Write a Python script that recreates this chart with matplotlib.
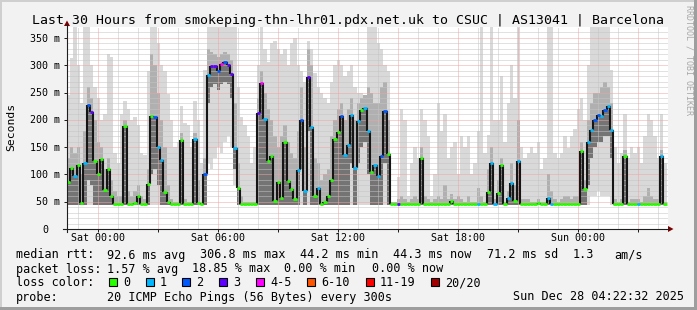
import numpy as np
import matplotlib.pyplot as plt
from matplotlib.patches import Rectangle, Polygon
from matplotlib.lines import Line2D
from matplotlib.transforms import offset_copy

# =============================
# DATA (10 minute steps, time in hours from Sat 00:00)
# =============================
t_start = -1.58
step_h = 1 / 6

rtt_med = [
    86, 112, 97, 118, 47, 121, 228, 214, 125, 100, 129, 71, 110, 60, 45, 45, 45, 189, 45, 45,
    48, 60, 45, 45, 83, 207, 206, 151, 127, 67,
    50, 45, 45, 45, 163, 45, 45, 45, 165, 48, 45, 101, 282, 298, 299, 290, 302, 306, 301, 283,
    148, 75, 45, 45, 45, 45, 45, 213, 268, 202,
    125, 133, 52, 87, 57, 159, 88, 73, 55, 108, 200, 70, 279, 186, 60, 76, 46, 50, 60, 90,
    165, 178, 207, 135, 154, 209, 112, 198, 218, 221,
    180, 105, 118, 97, 133, 217, 137, 45, 45, 45, 45, 45, 45, 45, 45, 45, 130, 45, 45, 45,
    45, 45, 45, 45, 45, 51, 45, 45, 45, 45,
    45, 45, 45, 45, 45, 45, 67, 121, 45, 66, 118, 45, 57, 84, 51, 125, 45, 45, 45, 45,
    45, 48, 45, 45, 56, 45, 45, 45, 45, 45,
    45, 45, 45, 45, 143, 73, 160, 182, 200, 208, 207, 218, 225, 181, 45, 45, 45, 133, 45, 45,
    45, 45, 45, 45, 45, 45, 45, 45, 133, 45,
]

loss = [
    0, 0, 1, 0, 0, 1, 2, 3, 0, 0, 0, 0, 0, 0, 0, 0, 0, 0, 0, 0, 0, 0, 0, 0, 0, 0, 2, 1, 1, 0,
    0, 0, 0, 0, 0, 0, 0, 0, 1, 0, 0, 2, 1, 3, 3, 2, 4, 2, 3, 3, 1, 0, 0, 0, 0, 0, 0, 3, 4, 1,
    0, 0, 0, 0, 0, 0, 0, 0, 0, 1, 2, 1, 3, 1, 0, 1, 0, 0, 0, 0, 0, 0, 2, 1, 1, 1, 1, 1, 0, 1,
    1, 0, 1, 1, 2, 2, 0, 0, 0, 3, 0, 0, 0, 0, 0, 0, 0, 0, 0, 0, 0, 0, 0, 0, 0, 0, 0, 0, 0, 0,
    0, 0, 0, 1, 0, 0, 0, 1, 1, 0, 0, 0, 1, 1, 0, 1, 0, 0, 0, 0, 0, 0, 0, 0, 1, 1, 0, 0, 0, 0,
    0, 0, 0, 0, 0, 0, 1, 1, 2, 2, 1, 2, 1, 1, 0, 0, 0, 0, 0, 0, 0, 1, 0, 0, 0, 0, 0, 0, 1, 0,
]

rtt_min = (
    [44] * 42 + [120, 110, 130, 150, 140, 160, 170, 150, 80] + [44] * 106
    + [60, 60, 70, 60, 60, 60] + [44] * 17
)

rtt_q1 = [
    44, 44, 44, 44, 44, 44, 90, 80, 44, 44, 44, 44, 44, 44, 44, 44, 44, 44, 44, 44,
    44, 44, 44, 44, 44, 100, 110, 80, 44, 44,
    44, 44, 44, 44, 44, 44, 44, 44, 44, 44, 44, 44, 230, 260, 265, 255, 265, 270, 265, 240,
    110, 44, 44, 44, 44, 44, 44, 44, 44, 44,
    44, 44, 44, 44, 44, 44, 44, 44, 44, 44, 110, 44, 180, 44, 44, 44, 44, 44, 44, 44,
    44, 44, 44, 44, 44, 120, 44, 120, 150, 160,
    100, 44, 44, 44, 44, 120, 44, 44, 44, 44, 44, 44, 44, 44, 44, 44, 44, 44, 44, 44,
    44, 44, 44, 44, 44, 44, 44, 44, 44, 44,
    44, 44, 44, 44, 44, 44, 44, 44, 44, 44, 44, 44, 44, 44, 44, 44, 44, 44, 44, 44,
    44, 44, 44, 44, 44, 44, 44, 44, 44, 44,
    44, 44, 44, 44, 44, 44, 80, 130, 150, 160, 160, 170, 170, 130, 44, 44, 44, 44, 44, 44,
    44, 44, 44, 44, 44, 44, 44, 44, 44, 44,
]

rtt_q3 = [
    130, 150, 140, 150, 100, 180, 260, 240, 200, 160, 150, 110, 130, 90, 70, 60, 60, 200, 70, 60,
    70, 80, 60, 55, 110, 320, 300, 250, 200, 150,
    80, 55, 50, 50, 175, 55, 50, 50, 175, 90, 50, 130, 330, 325, 320, 315, 320, 325, 320, 310,
    230, 120, 60, 50, 50, 50, 50, 240, 290, 250,
    220, 200, 170, 150, 170, 190, 160, 140, 130, 180, 260, 150, 330, 300, 130, 120, 90, 100, 110, 170,
    200, 220, 230, 200, 220, 240, 200, 230, 240, 245,
    260, 250, 230, 230, 260, 270, 200, 50, 50, 55, 60, 55, 50, 55, 60, 55, 150, 60, 55, 50,
    55, 60, 55, 80, 55, 65, 55, 60, 55, 50,
    60, 50, 50, 75, 60, 50, 110, 150, 55, 90, 130, 50, 70, 120, 80, 200, 55, 55, 55, 50,
    50, 55, 50, 50, 100, 70, 55, 50, 55, 60,
    60, 55, 60, 60, 160, 90, 200, 230, 250, 250, 260, 270, 260, 230, 55, 50, 55, 145, 50, 55,
    55, 55, 50, 60, 75, 60, 55, 55, 145, 50,
]

rtt_max = [
    245, 313, 370, 300, 230, 370, 370, 300, 260, 240, 200, 210, 320, 315, 140, 120, 210, 235, 220, 200,
    205, 190, 140, 135, 290, 370, 370, 340, 300, 290,
    248, 200, 150, 160, 225, 195, 190, 150, 235, 200, 120, 292, 370, 370, 370, 370, 370, 370, 370, 370,
    370, 260, 205, 190, 170, 120, 150, 300, 370, 330,
    305, 340, 345, 330, 320, 330, 300, 340, 350, 300, 290, 270, 345, 330, 285, 260, 250, 240, 230, 270,
    300, 310, 300, 280, 290, 300, 260, 250, 250, 240,
    370, 370, 370, 340, 330, 300, 290, 50, 50, 95, 220, 200, 60, 120, 150, 130, 220, 200, 170, 60,
    100, 230, 180, 210, 130, 150, 160, 100, 170, 150,
    170, 100, 120, 180, 370, 140, 172, 370, 200, 200, 280, 160, 230, 300, 240, 370, 150, 130, 140, 150,
    140, 160, 110, 130, 370, 370, 140, 130, 140, 170,
    148, 170, 184, 220, 240, 200, 300, 370, 370, 370, 370, 370, 370, 292, 150, 120, 140, 210, 130, 150,
    140, 150, 120, 170, 210, 200, 170, 130, 210, 120,
]

# loss colour legend
loss_labels = ["0", "1", "2", "3", "4-5", "6-10", "11-19", "20/20"]
loss_upper = [0, 1, 2, 3, 5, 10, 19, 20]
loss_colors = ["#26ff00", "#00b8ff", "#0059ff", "#5e00ff", "#ff00ff", "#ff5500", "#ff0000", "#a10000"]

ytick_vals = [0, 50, 100, 150, 200, 250, 300, 350]
ytick_labels = ["0", "50 m", "100 m", "150 m", "200 m", "250 m", "300 m", "350 m"]
xlabel_hours = [0, 6, 12, 18, 24]
xlabel_text = ["Sat 00:00", "Sat 06:00", "Sat 12:00", "Sat 18:00", "Sun 00:00"]

title = "Last 30 Hours from smokeping-thn-lhr01.pdx.net.uk to CSUC | AS13041 | Barcelona"

# =============================
# FIGURE SETUP
# =============================
W, H = 697, 310
MONO = "DejaVu Sans Mono"


def fx(x):
    return x / W


def fy(y):
    return 1 - y / H


fig = plt.figure(figsize=(W / 100, H / 100), dpi=100, facecolor="#f2f2f2")

# plot area: x 67..668 px, y 27..229 px
ax = fig.add_axes([fx(67), fy(229), (668 - 67) / W, (229 - 27) / H])
ax.set_facecolor("white")
ax.set_xlim(-1.565, 28.485)
ax.set_ylim(0, 370)
for s in ax.spines.values():
    s.set_visible(False)
ax.set_xticks([])
ax.set_yticks([])

n = len(rtt_med)
edges = t_start + np.arange(n + 1) * step_h
med = np.array(rtt_med, dtype=float)
q1 = np.array(rtt_q1, dtype=float)

# =============================
# SMOKE
# =============================
ax.stairs(rtt_max, edges, baseline=rtt_min, fill=True, color="#d9d9d9", lw=0, zorder=1)
ax.stairs(rtt_q3, edges, baseline=rtt_q1, fill=True, color="#b0b0b0", lw=0, zorder=1.2)
ax.stairs(np.maximum(med, q1), edges, baseline=q1, fill=True, color="#747474", lw=0, zorder=1.4)

# =============================
# GRID
# =============================
hours = np.arange(-1, 29)
minor_h = [h for h in hours if h % 3 != 0]
major_h = [h for h in hours if h % 3 == 0]
grid_kw = dict(linewidth=0.72, linestyles=(0, (1, 1)), zorder=2)
ax.vlines(minor_h, 0, 370, colors="#c4c4c4", **grid_kw)
ax.hlines([v for v in range(10, 370, 10) if v % 50 != 0], -1.565, 28.485, colors="#c4c4c4", **grid_kw)
ax.vlines(major_h, 0, 370, colors="#efa4a4", **grid_kw)
ax.hlines(ytick_vals[1:], -1.565, 28.485, colors="#efa4a4", **grid_kw)

# =============================
# MEDIAN (coloured by loss)
# =============================
med_colors = [loss_colors[np.searchsorted(loss_upper, l)] for l in loss]
ax.vlines(edges[1:-1], med[:-1], med[1:], colors="#151515", linewidth=1.5, zorder=3)
ax.hlines(med, edges[:-1], edges[1:], colors=med_colors, linewidth=2.0, zorder=4)

# =============================
# AXES, TICKS, ARROWS
# =============================
ax.vlines(major_h, -3 / 202, 0, transform=ax.get_xaxis_transform(), colors="#1f1f1f",
          linewidth=0.72, clip_on=False)
ax.hlines(ytick_vals, -3 / 601, 0, transform=ax.get_yaxis_transform(), colors="#1f1f1f",
          linewidth=0.72, clip_on=False)

fig.add_artist(Line2D([fx(63), fx(669)], [fy(229), fy(229)], color="#1f1f1f", lw=0.8))
fig.add_artist(Line2D([fx(67), fx(67)], [fy(232), fy(24)], color="#1f1f1f", lw=0.8))
fig.add_artist(Polygon([[fx(673.5), fy(229)], [fx(668), fy(226)], [fx(668), fy(232)]],
                       closed=True, color="#800000", lw=0))
fig.add_artist(Polygon([[fx(67), fy(20.5)], [fx(64), fy(26)], [fx(70), fy(26)]],
                       closed=True, color="#800000", lw=0))

# tick labels
for v, lab in zip(ytick_vals, ytick_labels):
    dx = -19 if lab == "0" else -7
    tr = offset_copy(ax.get_yaxis_transform(), fig=fig, x=dx, y=-3.6, units="dots")
    ax.text(0, v, lab, transform=tr, ha="right", va="baseline", family=MONO, size=7.2)

for h, lab in zip(xlabel_hours, xlabel_text):
    tr = offset_copy(ax.get_xaxis_transform(), fig=fig, x=0, y=-12, units="dots")
    ax.text(h, 0, lab, transform=tr, ha="center", va="baseline", family=MONO, size=7.2)

fig.text(fx(11), fy(127), "Seconds", rotation=90, ha="center", va="center", family=MONO, size=8.2)
fig.text(fx(347.8), fy(24), title, ha="center", va="baseline", family=MONO, size=9.55)
fig.text(fx(689), fy(5), "RRDTOOL / TOBI OETIKER", rotation=270, ha="center", va="top",
         family=MONO, size=6, color="#a8a8a8")

# =============================
# LEGEND LINES
# =============================
LS = 8.45
rows = [
    (258.5, [(16, "median rtt:"), (107.3, "92.6 ms avg"), (200, "306.8 ms max"),
             (300, "44.2 ms min"), (393.3, "44.3 ms now"), (486.7, "71.2 ms sd"),
             (572.7, "1.3"), (614.3, "am/s")]),
    (272.5, [(16, "packet loss:"), (107.3, "1.57 % avg"), (192.5, "18.85 % max"),
             (284.5, "0.00 % min"), (372.3, "0.00 % now")]),
    (286.5, [(16, "loss color:")]),
    (300.5, [(16, "probe:"), (107.3, "20 ICMP Echo Pings (56 Bytes) every 300s"),
             (513.3, "Sun Dec 28 04:22:32 2025")]),
]
for yb, items in rows:
    for x, s in items:
        fig.text(fx(x), fy(yb), s, ha="left", va="baseline", family=MONO, size=LS)

box_x = [108.5, 145.5, 182, 219, 256, 306.5, 365.5, 430.5]
for bx, lab, col in zip(box_x, loss_labels, loss_colors):
    fig.add_artist(Rectangle((fx(bx), fy(286)), 8 / W, 8 / H, transform=fig.transFigure,
                             facecolor=col, edgecolor="black", lw=0.8))
    fig.text(fx(bx + 14.5), fy(286.5), lab, ha="left", va="baseline", family=MONO, size=LS)

# 3D border
fig.add_artist(Rectangle((0, fy(2)), 1, 2 / H, transform=fig.transFigure, color="#cfcfcf", lw=0))
fig.add_artist(Rectangle((0, 0), 2 / W, 1, transform=fig.transFigure, color="#cfcfcf", lw=0))
fig.add_artist(Rectangle((0, 0), 1, 3 / H, transform=fig.transFigure, color="#9e9e9e", lw=0))
fig.add_artist(Rectangle((fx(694), 0), 3 / W, 1, transform=fig.transFigure, color="#9e9e9e", lw=0))

fig.savefig("out.png", dpi=100, facecolor=fig.get_facecolor())
